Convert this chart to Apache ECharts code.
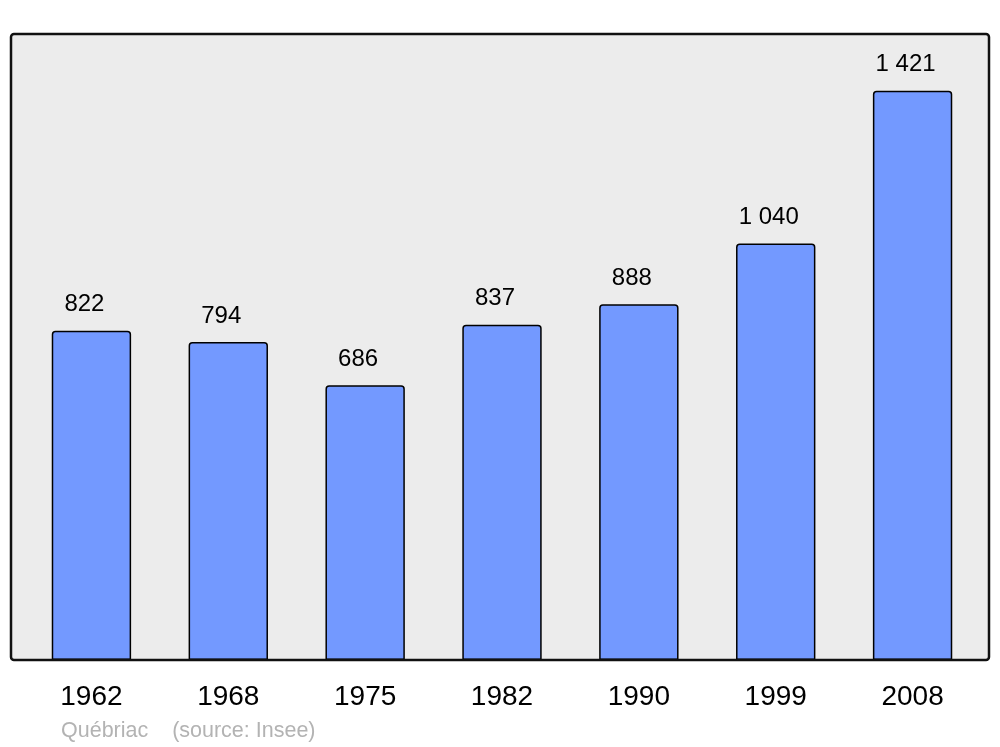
<!DOCTYPE html>
<html>
<head>
<meta charset="utf-8">
<script src="https://cdn.jsdelivr.net/npm/echarts@6/dist/echarts.min.js"></script>
<style>
  html, body { margin: 0; padding: 0; background: #fff; }
  #chart { width: 1000px; height: 747px; }
</style>
</head>
<body>
<div id="chart"></div>
<script>
  var years = ['1962', '1968', '1975', '1982', '1990', '1999', '2008'];
  var population = [822, 794, 686, 837, 888, 1040, 1421];
  var yMax = 1563;

  // 1 421 style formatting
  function fmt(v) {
    return String(v).replace(/\B(?=(\d{3})+(?!\d))/g, ' ');
  }

  var myChart = echarts.init(document.getElementById('chart'));
  var option = {
    backgroundColor: '#fff',
    animation: false,
    grid: {
      left: 23,
      right: 19,
      top: 34,
      bottom: 87
    },
    graphic: [{
      type: 'rect',
      z: -10,
      shape: { x: 11, y: 34, width: 978, height: 626, r: 3 },
      style: { fill: '#ececec', stroke: 'none' }
    }, {
      type: 'rect',
      z: 100,
      shape: { x: 11, y: 34, width: 978, height: 626, r: 3 },
      style: { fill: 'none', stroke: '#111', lineWidth: 2.5 }
    }, {
      type: 'text',
      left: 61,
      top: 720,
      style: {
        text: 'Québriac    (source: Insee)',
        fill: '#b3b3b3',
        font: '21.5px "Liberation Sans", Arial, sans-serif'
      }
    }],
    xAxis: {
      type: 'category',
      data: years,
      axisLine: { show: false },
      axisTick: { show: false },
      axisLabel: {
        margin: 23,
        color: '#000',
        fontSize: 28,
        fontFamily: '"Liberation Sans", Arial, sans-serif',
        formatter: function (v) { return v; }
      }
    },
    yAxis: {
      type: 'value',
      min: 0,
      max: yMax,
      show: false,
      splitLine: { show: false }
    },
    series: [{
      type: 'bar',
      data: population,
      barWidth: '58%',
      itemStyle: {
        color: '#7399ff',
        borderColor: '#000',
        borderWidth: 1.5,
        borderRadius: [3, 3, 0, 0]
      },
      label: {
        show: true,
        position: 'top',
        distance: 14,
        offset: [-7, 0],
        color: '#000',
        fontSize: 24,
        fontFamily: '"Liberation Sans", Arial, sans-serif',
        formatter: function (p) { return fmt(p.value); }
      }
    }]
  };
  myChart.setOption(option);
</script>
</body>
</html>
